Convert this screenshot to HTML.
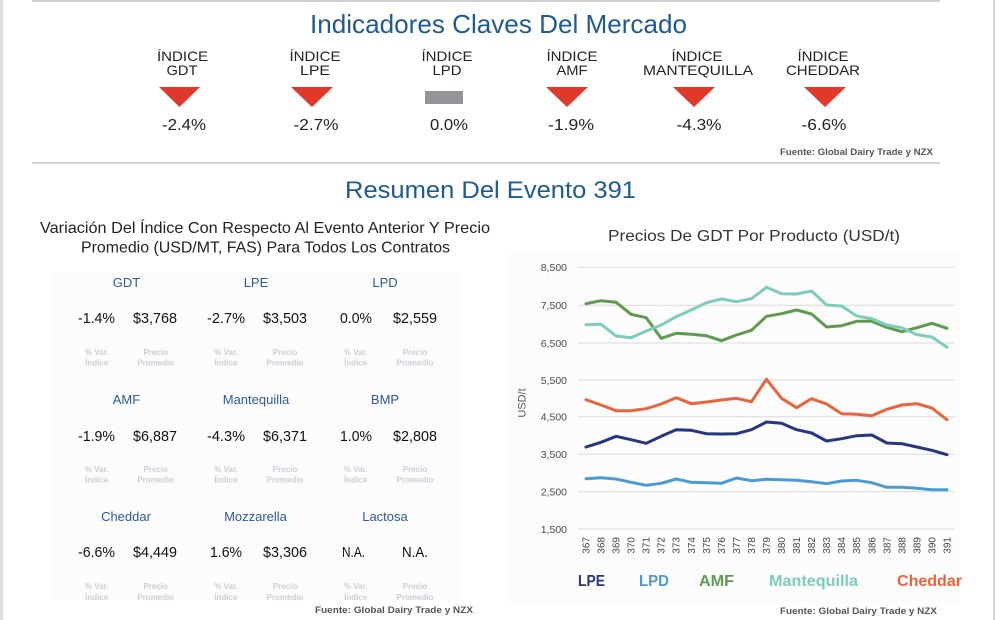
<!DOCTYPE html>
<html>
<head>
<meta charset="utf-8">
<style>
html,body{margin:0;padding:0;background:#fff;}
svg{display:block;}
text{font-family:"Liberation Sans",Arial,sans-serif;}
</style>
</head>
<body>
<svg width="995" height="620" viewBox="0 0 995 620" xmlns="http://www.w3.org/2000/svg">
<rect x="0" y="0" width="995" height="620" fill="#fff"/>
<!-- borders -->
<rect x="0" y="0" width="3" height="620" fill="#dedede"/>
<rect x="993" y="0" width="2" height="620" fill="#d6d6d6"/>
<rect x="32" y="0" width="908" height="2" fill="#d0d0d0"/>
<rect x="32" y="162" width="908" height="2" fill="#d4d4d4"/>

<!-- faint panels -->
<rect x="53" y="272" width="407" height="328" fill="#fcfcfc"/>
<rect x="508" y="253" width="452" height="350" fill="#fcfcfc"/>

<!-- Title -->
<text x="310" y="33" font-size="26" fill="#1f5a92" textLength="377" lengthAdjust="spacingAndGlyphs">Indicadores Claves Del Mercado</text>

<!-- indicators -->
<g font-size="14" fill="#222" text-anchor="middle">
  <text x="182.5" y="61" textLength="51" lengthAdjust="spacingAndGlyphs">ÍNDICE</text>
  <text x="182" y="75" textLength="31" lengthAdjust="spacingAndGlyphs">GDT</text>
  <text x="315" y="61" textLength="51" lengthAdjust="spacingAndGlyphs">ÍNDICE</text>
  <text x="315" y="75" textLength="30" lengthAdjust="spacingAndGlyphs">LPE</text>
  <text x="447" y="61" textLength="51" lengthAdjust="spacingAndGlyphs">ÍNDICE</text>
  <text x="447" y="75" textLength="29" lengthAdjust="spacingAndGlyphs">LPD</text>
  <text x="572" y="61" textLength="51" lengthAdjust="spacingAndGlyphs">ÍNDICE</text>
  <text x="572" y="75" textLength="31" lengthAdjust="spacingAndGlyphs">AMF</text>
  <text x="697" y="61" textLength="51" lengthAdjust="spacingAndGlyphs">ÍNDICE</text>
  <text x="698" y="75" textLength="110" lengthAdjust="spacingAndGlyphs">MANTEQUILLA</text>
  <text x="823" y="61" textLength="51" lengthAdjust="spacingAndGlyphs">ÍNDICE</text>
  <text x="823" y="75" textLength="74" lengthAdjust="spacingAndGlyphs">CHEDDAR</text>
</g>
<g fill="#e0392b">
  <polygon points="159,87 200,87 179.5,107"/>
  <polygon points="291,87 333,87 312,107"/>
  <polygon points="546,87 588,87 567,107"/>
  <polygon points="673,87 715,87 694,107"/>
  <polygon points="804,87 846,87 825,107"/>
</g>
<rect x="425" y="91" width="38" height="13" fill="#939598"/>
<g font-size="16" fill="#222" text-anchor="middle">
  <text x="184" y="130" textLength="44" lengthAdjust="spacingAndGlyphs">-2.4%</text>
  <text x="316" y="130" textLength="45" lengthAdjust="spacingAndGlyphs">-2.7%</text>
  <text x="449" y="130" textLength="38" lengthAdjust="spacingAndGlyphs">0.0%</text>
  <text x="571" y="130" textLength="46" lengthAdjust="spacingAndGlyphs">-1.9%</text>
  <text x="699" y="130" textLength="45" lengthAdjust="spacingAndGlyphs">-4.3%</text>
  <text x="824" y="130" textLength="45" lengthAdjust="spacingAndGlyphs">-6.6%</text>
</g>
<text x="780" y="155" font-size="9" font-weight="bold" fill="#555" textLength="153" lengthAdjust="spacingAndGlyphs">Fuente: Global Dairy Trade y NZX</text>

<!-- Resumen -->
<text x="345" y="198" font-size="24" fill="#1f5a92" textLength="291" lengthAdjust="spacingAndGlyphs">Resumen Del Evento 391</text>
<text x="40" y="233" font-size="16" fill="#222" textLength="450" lengthAdjust="spacingAndGlyphs">Variación Del Índice Con Respecto Al Evento Anterior Y Precio</text>
<text x="81" y="252.5" font-size="16" fill="#222" textLength="369" lengthAdjust="spacingAndGlyphs">Promedio (USD/MT, FAS) Para Todos Los Contratos</text>

<!-- table -->
<g font-size="13" fill="#2d5a96" text-anchor="middle">
  <text x="126.5" y="287">GDT</text>
  <text x="256" y="287">LPE</text>
  <text x="385" y="287">LPD</text>
  <text x="126.5" y="404">AMF</text>
  <text x="256" y="404">Mantequilla</text>
  <text x="385" y="404">BMP</text>
  <text x="126" y="521">Cheddar</text>
  <text x="255.5" y="521">Mozzarella</text>
  <text x="385" y="521">Lactosa</text>
</g>
<g font-size="15" fill="#111">
  <text x="78" y="323" textLength="37" lengthAdjust="spacingAndGlyphs">-1.4%</text>
  <text x="133" y="323" textLength="44" lengthAdjust="spacingAndGlyphs">$3,768</text>
  <text x="207" y="323" textLength="38" lengthAdjust="spacingAndGlyphs">-2.7%</text>
  <text x="263" y="323" textLength="44" lengthAdjust="spacingAndGlyphs">$3,503</text>
  <text x="340" y="323" textLength="32" lengthAdjust="spacingAndGlyphs">0.0%</text>
  <text x="393" y="323" textLength="44" lengthAdjust="spacingAndGlyphs">$2,559</text>

  <text x="78" y="441" textLength="37" lengthAdjust="spacingAndGlyphs">-1.9%</text>
  <text x="133" y="441" textLength="44" lengthAdjust="spacingAndGlyphs">$6,887</text>
  <text x="207" y="441" textLength="38" lengthAdjust="spacingAndGlyphs">-4.3%</text>
  <text x="263" y="441" textLength="44" lengthAdjust="spacingAndGlyphs">$6,371</text>
  <text x="340" y="441" textLength="32" lengthAdjust="spacingAndGlyphs">1.0%</text>
  <text x="393" y="441" textLength="44" lengthAdjust="spacingAndGlyphs">$2,808</text>

  <text x="78" y="557" textLength="37" lengthAdjust="spacingAndGlyphs">-6.6%</text>
  <text x="133" y="557" textLength="44" lengthAdjust="spacingAndGlyphs">$4,449</text>
  <text x="210" y="557" textLength="32" lengthAdjust="spacingAndGlyphs">1.6%</text>
  <text x="263" y="557" textLength="44" lengthAdjust="spacingAndGlyphs">$3,306</text>
  <text x="342" y="557" textLength="23" lengthAdjust="spacingAndGlyphs">N.A.</text>
  <text x="402" y="557" textLength="26" lengthAdjust="spacingAndGlyphs">N.A.</text>
</g>
<g font-size="8" font-weight="bold" fill="#c9cdd5" text-anchor="middle">
  <text x="96.7" y="355">% Var.</text><text x="96.7" y="365.7">Índice</text>
  <text x="155.7" y="355">Precio</text><text x="155.7" y="365.7">Promedio</text>
  <text x="226" y="355">% Var.</text><text x="226" y="365.7">Índice</text>
  <text x="285" y="355">Precio</text><text x="285" y="365.7">Promedio</text>
  <text x="355.7" y="355">% Var.</text><text x="355.7" y="365.7">Índice</text>
  <text x="415" y="355">Precio</text><text x="415" y="365.7">Promedio</text>

  <text x="96.7" y="472">% Var.</text><text x="96.7" y="482.5">Índice</text>
  <text x="155.7" y="472">Precio</text><text x="155.7" y="482.5">Promedio</text>
  <text x="226" y="472">% Var.</text><text x="226" y="482.5">Índice</text>
  <text x="285" y="472">Precio</text><text x="285" y="482.5">Promedio</text>
  <text x="355.7" y="472">% Var.</text><text x="355.7" y="482.5">Índice</text>
  <text x="415" y="472">Precio</text><text x="415" y="482.5">Promedio</text>

  <text x="96.7" y="589">% Var.</text><text x="96.7" y="600">Índice</text>
  <text x="155.7" y="589">Precio</text><text x="155.7" y="600">Promedio</text>
  <text x="226" y="589">% Var.</text><text x="226" y="600">Índice</text>
  <text x="285" y="589">Precio</text><text x="285" y="600">Promedio</text>
  <text x="355.7" y="589">% Var.</text><text x="355.7" y="600">Índice</text>
  <text x="415" y="589">Precio</text><text x="415" y="600">Promedio</text>
</g>
<text x="315" y="613" font-size="9" font-weight="bold" fill="#555" textLength="158" lengthAdjust="spacingAndGlyphs">Fuente:  Global Dairy Trade y NZX</text>

<!-- chart -->
<text x="608" y="241" font-size="16" fill="#333" textLength="292" lengthAdjust="spacingAndGlyphs">Precios De GDT Por Producto (USD/t)</text>
<g stroke="#dadada" stroke-width="1">
  <line x1="578" y1="267.3" x2="955" y2="267.3"/>
  <line x1="578" y1="305.3" x2="955" y2="305.3"/>
  <line x1="578" y1="343" x2="955" y2="343"/>
  <line x1="578" y1="380" x2="955" y2="380"/>
  <line x1="578" y1="416.7" x2="955" y2="416.7"/>
  <line x1="578" y1="454.3" x2="955" y2="454.3"/>
  <line x1="578" y1="491.7" x2="955" y2="491.7"/>
  <line x1="578" y1="529" x2="955" y2="529"/>
</g>
<g font-size="10.5" fill="#4a4a4a" text-anchor="end">
  <text x="567" y="271">8,500</text>
  <text x="567" y="309">7,500</text>
  <text x="567" y="347">6,500</text>
  <text x="567" y="384">5,500</text>
  <text x="567" y="420.5">4,500</text>
  <text x="567" y="458">3,500</text>
  <text x="567" y="495.5">2,500</text>
  <text x="567" y="533">1,500</text>
</g>
<text transform="translate(525.5,403) rotate(-90)" font-size="11" fill="#555" text-anchor="middle">USD/t</text>
<g font-size="10" fill="#444" text-anchor="end">
  <text transform="translate(589.5,537) rotate(-90)">367</text>
  <text transform="translate(604.5,537) rotate(-90)">368</text>
  <text transform="translate(619.6,537) rotate(-90)">369</text>
  <text transform="translate(634.6,537) rotate(-90)">370</text>
  <text transform="translate(649.7,537) rotate(-90)">371</text>
  <text transform="translate(664.7,537) rotate(-90)">372</text>
  <text transform="translate(679.7,537) rotate(-90)">373</text>
  <text transform="translate(694.8,537) rotate(-90)">374</text>
  <text transform="translate(709.8,537) rotate(-90)">375</text>
  <text transform="translate(724.9,537) rotate(-90)">376</text>
  <text transform="translate(739.9,537) rotate(-90)">377</text>
  <text transform="translate(754.9,537) rotate(-90)">378</text>
  <text transform="translate(770,537) rotate(-90)">379</text>
  <text transform="translate(785,537) rotate(-90)">380</text>
  <text transform="translate(800.1,537) rotate(-90)">381</text>
  <text transform="translate(815.1,537) rotate(-90)">382</text>
  <text transform="translate(830.1,537) rotate(-90)">383</text>
  <text transform="translate(845.2,537) rotate(-90)">384</text>
  <text transform="translate(860.2,537) rotate(-90)">385</text>
  <text transform="translate(875.3,537) rotate(-90)">386</text>
  <text transform="translate(890.3,537) rotate(-90)">387</text>
  <text transform="translate(905.3,537) rotate(-90)">388</text>
  <text transform="translate(920.4,537) rotate(-90)">389</text>
  <text transform="translate(935.4,537) rotate(-90)">390</text>
  <text transform="translate(950.5,537) rotate(-90)">391</text>
</g>
<g fill="none" stroke-width="3" stroke-linejoin="round" stroke-linecap="round">
  <polyline stroke="#4b9bd3" points="586,478.7 601,477.7 616.1,479 631.1,482.3 646.2,485.3 661.2,483.3 676.2,479 691.3,482.3 706.3,482.7 721.4,483.3 736.4,478 751.4,480.7 766.5,479.3 781.5,479.7 796.6,480.3 811.6,481.7 826.6,483.7 841.7,481 856.7,480.3 871.8,482.7 886.8,487.3 901.8,487.3 916.9,488.3 931.9,489.7 947,489.7"/>
  <polyline stroke="#283580" points="586,447 601,442.3 616.1,436.3 631.1,439.7 646.2,443.3 661.2,436.3 676.2,429.7 691.3,430.3 706.3,433.7 721.4,434 736.4,433.7 751.4,429.7 766.5,422 781.5,423.3 796.6,429.7 811.6,433 826.6,441 841.7,438.7 856.7,435.7 871.8,435 886.8,443 901.8,443.7 916.9,447 931.9,450.3 947,454.7"/>
  <polyline stroke="#e9643d" points="586,399.7 601,405 616.1,410.7 631.1,410.7 646.2,408.7 661.2,404 676.2,397.7 691.3,403.7 706.3,402 721.4,400 736.4,398.3 751.4,401.7 766.5,379.3 781.5,398.3 796.6,407.7 811.6,398.7 826.6,404 841.7,413.7 856.7,414.3 871.8,415.7 886.8,409.3 901.8,405 916.9,403.7 931.9,408 947,419.7"/>
  <polyline stroke="#5e9b4f" points="586,303.7 601,300.7 616.1,302.3 631.1,314.3 646.2,317.7 661.2,338.3 676.2,333.3 691.3,334.3 706.3,335.7 721.4,340.7 736.4,335 751.4,330.3 766.5,316.3 781.5,313.7 796.6,310 811.6,314 826.6,327 841.7,325.7 856.7,321.3 871.8,321.3 886.8,327.3 901.8,331.7 916.9,327.7 931.9,323.3 947,328.3"/>
  <polyline stroke="#7ecdbb" points="586,324.7 601,324.3 616.1,336 631.1,337.7 646.2,331 661.2,325 676.2,316.7 691.3,310 706.3,302.7 721.4,299 736.4,301.7 751.4,298.7 766.5,287.3 781.5,293.7 796.6,294 811.6,291 826.6,305 841.7,306 856.7,316 871.8,318.7 886.8,325 901.8,327.7 916.9,334.7 931.9,337 947,347.3"/>
</g>
<g font-size="16" font-weight="bold">
  <text x="578" y="586" fill="#283580" textLength="27" lengthAdjust="spacingAndGlyphs">LPE</text>
  <text x="639" y="586" fill="#4b9bd3" textLength="30" lengthAdjust="spacingAndGlyphs">LPD</text>
  <text x="699" y="586" fill="#5e9b4f" textLength="35" lengthAdjust="spacingAndGlyphs">AMF</text>
  <text x="769" y="586" fill="#7ecdbb" textLength="89" lengthAdjust="spacingAndGlyphs">Mantequilla</text>
  <text x="897" y="586" fill="#e9643d" textLength="65" lengthAdjust="spacingAndGlyphs">Cheddar</text>
</g>
<text x="780" y="614" font-size="9" font-weight="bold" fill="#555" textLength="157" lengthAdjust="spacingAndGlyphs">Fuente:  Global Dairy Trade y NZX</text>
</svg>
</body>
</html>
